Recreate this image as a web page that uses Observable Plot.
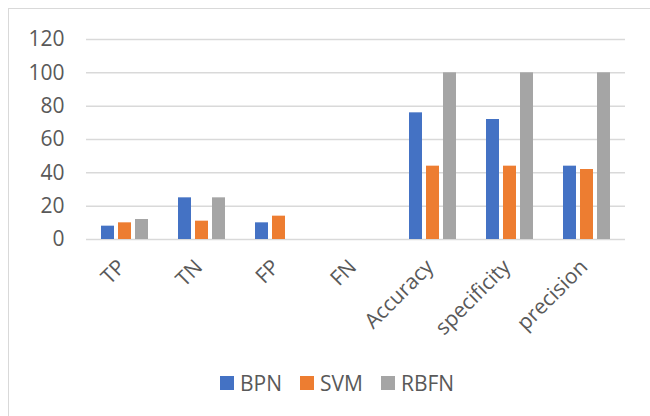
<!DOCTYPE html>
<html>
<head>
<meta charset="utf-8">
<script src="https://cdn.jsdelivr.net/npm/d3@7"></script>
<script src="https://cdn.jsdelivr.net/npm/@observablehq/plot@0.6"></script>
<style>
  html, body { margin: 0; padding: 0; background: #fff; }
  #wrap { position: relative; width: 650px; height: 416px; overflow: hidden; background: #fff; font-family: "Open Sans", sans-serif; }
  #frame { position: absolute; left: 8px; top: 8px; width: 700px; height: 500px; border: 1.5px solid #d9d9d9; box-sizing: border-box; }
  #chart { position: absolute; left: 0; top: 0; }
  #legend { position: absolute; left: 220px; top: 370px; height: 26px; display: flex; align-items: center; font-size: 21px; color: #595959; white-space: nowrap; }
  .item { display: flex; align-items: center; margin-right: 18px; }
  .sw { width: 14px; height: 14px; margin-right: 6px; }
</style>
</head>
<body>
<div id="wrap">
  <div id="frame"></div>
  <div id="chart"></div>
  <div id="legend"></div>
</div>
<script>
const categories = ["TP", "TN", "FP", "FN", "Accuracy", "specificity", "precision"];
const seriesNames = ["BPN", "SVM", "RBFN"];
const bpn  = [8, 25, 10, 0, 76, 72, 44];
const svm  = [10, 11, 14, 0, 44, 44, 42];
const rbfn = [12, 25, 0, 0, 100, 100, 100];
const yTicks = [0, 20, 40, 60, 80, 100, 120];
const colors = ["#4472C4", "#ED7D31", "#A5A5A5"];

const seriesValues = [bpn, svm, rbfn];
const data = [];
categories.forEach((c, i) => {
  seriesNames.forEach((s, j) => {
    data.push({category: c, series: s, value: seriesValues[j][i]});
  });
});

const chart = Plot.plot({
  width: 650,
  height: 350,
  marginLeft: 85,
  marginRight: 25,
  marginTop: 39,
  marginBottom: 111,
  style: {fontFamily: "'Open Sans', sans-serif", fontSize: "21px", color: "#595959", background: "transparent"},
  fx: {domain: categories, padding: 0, label: null},
  x: {domain: seriesNames, paddingInner: 0.23, paddingOuter: 0.845, axis: null},
  y: {domain: [0, 120], label: null},
  color: {domain: seriesNames, range: colors},
  marks: [
    Plot.ruleY(yTicks, {stroke: "#d9d9d9", strokeWidth: 1.5}),
    Plot.axisY({ticks: yTicks, tickSize: 0, tickPadding: 22, fontSize: 21, label: null}),
    Plot.axisFx({anchor: "bottom", tickRotate: -45, tickSize: 0, tickPadding: 24, dx: -3, fontSize: 21, label: null}),
    Plot.barY(data, {fx: "category", x: "series", y: "value", fill: "series"})
  ]
});
document.getElementById("chart").appendChild(chart);

const legend = document.getElementById("legend");
seriesNames.forEach((s, i) => {
  const item = document.createElement("div");
  item.className = "item";
  const sw = document.createElement("div");
  sw.className = "sw";
  sw.style.background = colors[i];
  const t = document.createElement("span");
  t.textContent = s;
  item.appendChild(sw);
  item.appendChild(t);
  legend.appendChild(item);
});
</script>
</body>
</html>
